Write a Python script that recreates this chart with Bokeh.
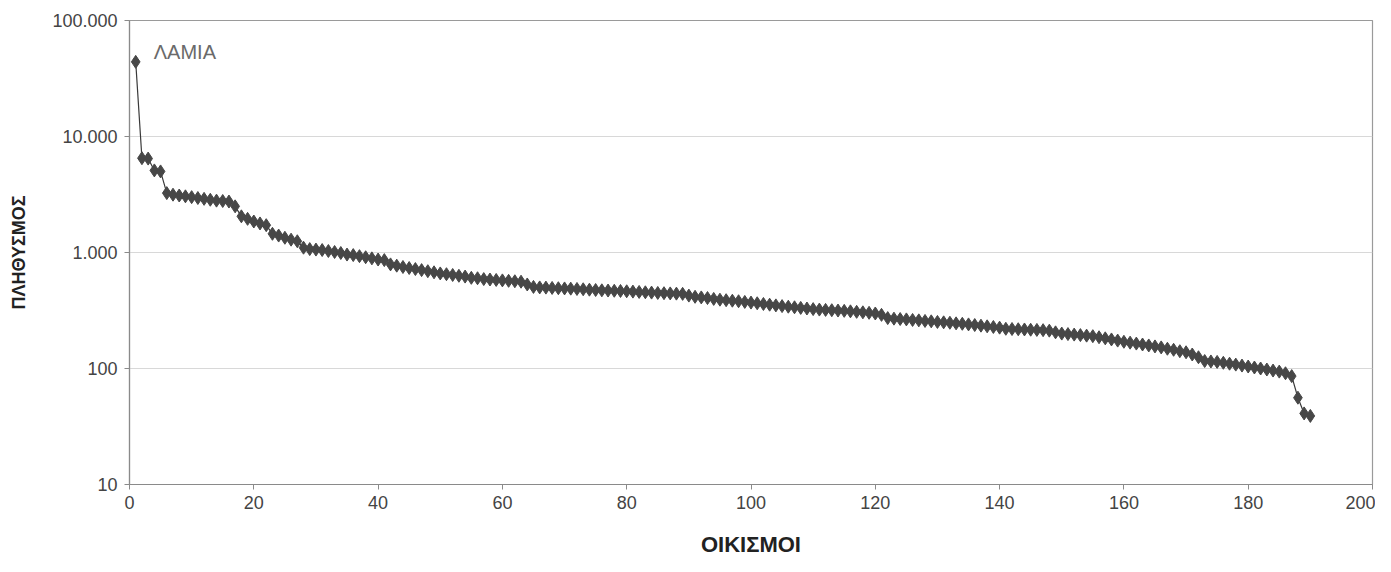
from bokeh.plotting import figure
from bokeh.models import FixedTicker, Range1d, Label
from bokeh.embed import file_html
from bokeh.resources import INLINE

population = [
    44000, 6500, 6450, 5100, 5000, 3250, 3150, 3100, 3050, 3000,
    2950, 2900, 2850, 2800, 2780, 2750, 2500, 2050, 1950, 1850,
    1780, 1720, 1450, 1400, 1340, 1290, 1250, 1100, 1070, 1060,
    1050, 1030, 1010, 990, 960, 950, 930, 910, 890, 870,
    860, 790, 770, 750, 735, 720, 705, 690, 675, 660,
    650, 640, 630, 620, 605, 600, 590, 585, 580, 575,
    570, 565, 560, 530, 505, 500, 498, 495, 492, 490,
    488, 485, 482, 478, 475, 472, 470, 468, 466, 463,
    460, 457, 454, 451, 448, 446, 444, 442, 440, 425,
    415, 410, 405, 398, 392, 388, 384, 380, 375, 370,
    365, 360, 355, 350, 345, 341, 337, 333, 329, 325,
    322, 320, 318, 316, 314, 311, 308, 305, 302, 298,
    290, 272, 269, 267, 265, 262, 260, 257, 255, 252,
    250, 248, 245, 243, 240, 237, 234, 231, 228, 225,
    220, 219, 218, 217, 216, 215, 214, 212, 205, 200,
    198, 196, 194, 192, 190, 186, 182, 178, 174, 170,
    167, 164, 161, 158, 155, 152, 148, 145, 141, 138,
    132, 125, 116, 115, 114, 112, 110, 108, 106, 104,
    102, 100, 98, 96, 94, 91, 86, 56, 41, 39,
]
rank = list(range(1, len(population) + 1))

y_ticks = [10, 100, 1000, 10000, 100000]
y_tick_labels = ["10", "100", "1.000", "10.000", "100.000"]
x_ticks = [0, 20, 40, 60, 80, 100, 120, 140, 160, 180, 200]

FONT = "Liberation Sans"

p = figure(width=1375, height=559, y_axis_type="log",
           x_range=Range1d(0, 200), y_range=Range1d(10, 100000),
           output_backend="svg", toolbar_location=None,
           min_border_left=129, min_border_right=3,
           min_border_top=20, min_border_bottom=74)

p.outline_line_color = "#9a9a9a"
p.outline_line_width = 1.2
p.xgrid.grid_line_color = None
p.ygrid.grid_line_color = "#d8d8d8"
p.ygrid.grid_line_width = 1

p.line(rank, population, line_color="#3a3a3a", line_width=1.2)
p.scatter(rank, population, marker="diamond", size=13,
          fill_color="#474747", line_color="#474747")

p.yaxis.ticker = FixedTicker(ticks=y_ticks)
p.yaxis.major_label_overrides = {t: l for t, l in zip(y_ticks, y_tick_labels)}
p.yaxis.minor_tick_line_color = None
p.xaxis.ticker = FixedTicker(ticks=x_ticks)
p.xaxis.minor_tick_line_color = None

for ax in (p.xaxis[0], p.yaxis[0]):
    ax.axis_line_color = "#8a8a8a"
    ax.axis_line_width = 1.2
    ax.major_tick_line_color = "#8a8a8a"
    ax.major_tick_in = 0
    ax.major_tick_out = 5
    ax.major_label_text_font = FONT
    ax.major_label_text_font_size = "18px"
    ax.major_label_text_color = "#444444"
    ax.axis_label_text_font = FONT
    ax.axis_label_text_font_style = "bold"
    ax.axis_label_text_color = "#222222"

p.xaxis.axis_label = "ΟΙΚΙΣΜΟΙ"
p.yaxis.axis_label = "ΠΛΗΘΥΣΜΟΣ"
p.xaxis.axis_label_text_font_size = "22px"
p.yaxis.axis_label_text_font_size = "18px"
p.xaxis.major_label_standoff = 6
p.yaxis.major_label_standoff = 7
p.xaxis.axis_label_standoff = 20
p.yaxis.axis_label_standoff = 20

p.add_layout(Label(x=3.9, y=53000, text="ΛΑΜΙΑ", text_font=FONT,
                   text_font_size="20px", text_color="#6a6a6a",
                   text_baseline="middle"))

open("out.html", "w").write(file_html(p, INLINE))
